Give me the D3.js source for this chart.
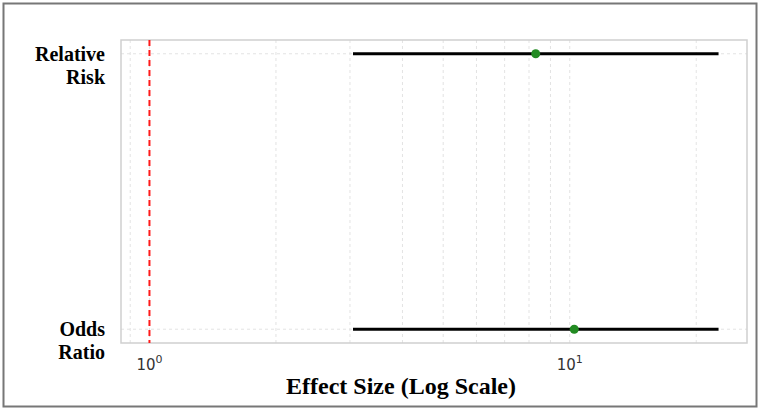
<!DOCTYPE html>
<html>
<head>
<meta charset="utf-8">
<script src="https://cdn.jsdelivr.net/npm/d3@7"></script>
<style>
  body { margin: 0; background: #fff; }
  svg { display: block; }
</style>
</head>
<body>
<div id="chart"></div>
<script>
// effect sizes with confidence intervals
const measures = ['Relative Risk', 'Odds Ratio']
const estimates = [8.3, 10.25]
const ciLower = [3.05, 3.05]
const ciUpper = [22.6, 22.6]
const referenceValue = 1

const width = 761
const height = 412
const margin = { top: 40, right: 14, bottom: 69, left: 121 }
const boundedWidth = width - margin.left - margin.right
const boundedHeight = height - margin.top - margin.bottom

const svg = d3.select('#chart').append('svg')
  .attr('width', width)
  .attr('height', height)

// outer frame
svg.append('rect')
  .attr('x', 3.5).attr('y', 3.5)
  .attr('width', 753).attr('height', 403)
  .attr('fill', 'none')
  .attr('stroke', '#777')
  .attr('stroke-width', 2)

const plot = svg.append('g')
  .attr('transform', `translate(${margin.left}, ${margin.top})`)

// log x scale with 5% padding like matplotlib autoscale
const lo = Math.log10(Math.min(referenceValue, d3.min(ciLower)))
const hi = Math.log10(d3.max(ciUpper))
const pad = (hi - lo) * 0.05
const xScale = d3.scaleLog()
  .domain([Math.pow(10, lo - pad), Math.pow(10, hi + pad)])
  .range([0, boundedWidth])

const yScale = d3.scaleLinear()
  .domain([-0.05, 1.05])
  .range([0, boundedHeight])

// grid: every minor tick inside the domain
const gridTicks = xScale.ticks().filter(t => t >= xScale.domain()[0] && t <= xScale.domain()[1])
plot.append('g').attr('class', 'x-grid')
  .selectAll('line')
  .data(gridTicks)
  .join('line')
  .attr('x1', d => xScale(d)).attr('x2', d => xScale(d))
  .attr('y1', 0).attr('y2', boundedHeight)
  .attr('stroke', '#dcdcdc')
  .attr('stroke-width', 0.8)
  .attr('stroke-dasharray', '3,3')

plot.append('g').attr('class', 'y-grid')
  .selectAll('line')
  .data(measures)
  .join('line')
  .attr('x1', 0).attr('x2', boundedWidth)
  .attr('y1', (d, i) => yScale(i)).attr('y2', (d, i) => yScale(i))
  .attr('stroke', '#dcdcdc')
  .attr('stroke-width', 0.8)
  .attr('stroke-dasharray', '3,3')

// frame
plot.append('rect')
  .attr('width', boundedWidth)
  .attr('height', boundedHeight)
  .attr('fill', 'none')
  .attr('stroke', '#cfcfcf')
  .attr('stroke-width', 1.5)

// reference line at 1
plot.append('line')
  .attr('x1', xScale(referenceValue)).attr('x2', xScale(referenceValue))
  .attr('y1', 0).attr('y2', boundedHeight)
  .attr('stroke', '#ff1a1a')
  .attr('stroke-width', 2)
  .attr('stroke-dasharray', '6,4')

// confidence intervals
plot.selectAll('.ci')
  .data(measures)
  .join('line')
  .attr('class', 'ci')
  .attr('x1', (d, i) => xScale(ciLower[i]))
  .attr('x2', (d, i) => xScale(ciUpper[i]))
  .attr('y1', (d, i) => yScale(i)).attr('y2', (d, i) => yScale(i))
  .attr('stroke', 'black')
  .attr('stroke-width', 3)

plot.selectAll('.est')
  .data(measures)
  .join('circle')
  .attr('class', 'est')
  .attr('cx', (d, i) => xScale(estimates[i]))
  .attr('cy', (d, i) => yScale(i))
  .attr('r', 4.5)
  .attr('fill', '#228B22')

// x tick labels (decades only)
const decades = gridTicks.filter(t => Math.abs(Math.log10(t) - Math.round(Math.log10(t))) < 1e-9)
const xt = plot.append('g').attr('class', 'x-ticks')
  .selectAll('text')
  .data(decades)
  .join('text')
  .attr('x', d => xScale(d))
  .attr('y', boundedHeight + 27)
  .attr('text-anchor', 'middle')
  .attr('font-family', 'DejaVu Sans, sans-serif')
  .attr('font-size', 15)
  .attr('fill', '#333')
xt.append('tspan').text('10')
xt.append('tspan')
  .attr('dy', -7)
  .attr('font-size', 11)
  .text(d => Math.round(Math.log10(d)))

// y tick labels, wrapped on the space
const yt = plot.append('g').attr('class', 'y-ticks')
  .selectAll('text')
  .data(measures)
  .join('text')
  .attr('x', -16)
  .attr('y', (d, i) => yScale(i) + 7)
  .attr('text-anchor', 'end')
  .attr('font-family', 'Liberation Serif, Times New Roman, serif')
  .attr('font-weight', 'bold')
  .attr('font-size', 20)
  .attr('fill', '#000')
yt.selectAll('tspan')
  .data(d => d.split(' '))
  .join('tspan')
  .attr('x', -16)
  .attr('dy', (d, i) => i === 0 ? 0 : 23)
  .text(d => d)

// axis title
svg.append('text')
  .attr('x', 401)
  .attr('y', 394)
  .attr('text-anchor', 'middle')
  .attr('font-family', 'Liberation Serif, Times New Roman, serif')
  .attr('font-weight', 'bold')
  .attr('font-size', 24)
  .text('Effect Size (Log Scale)')
</script>
</body>
</html>
